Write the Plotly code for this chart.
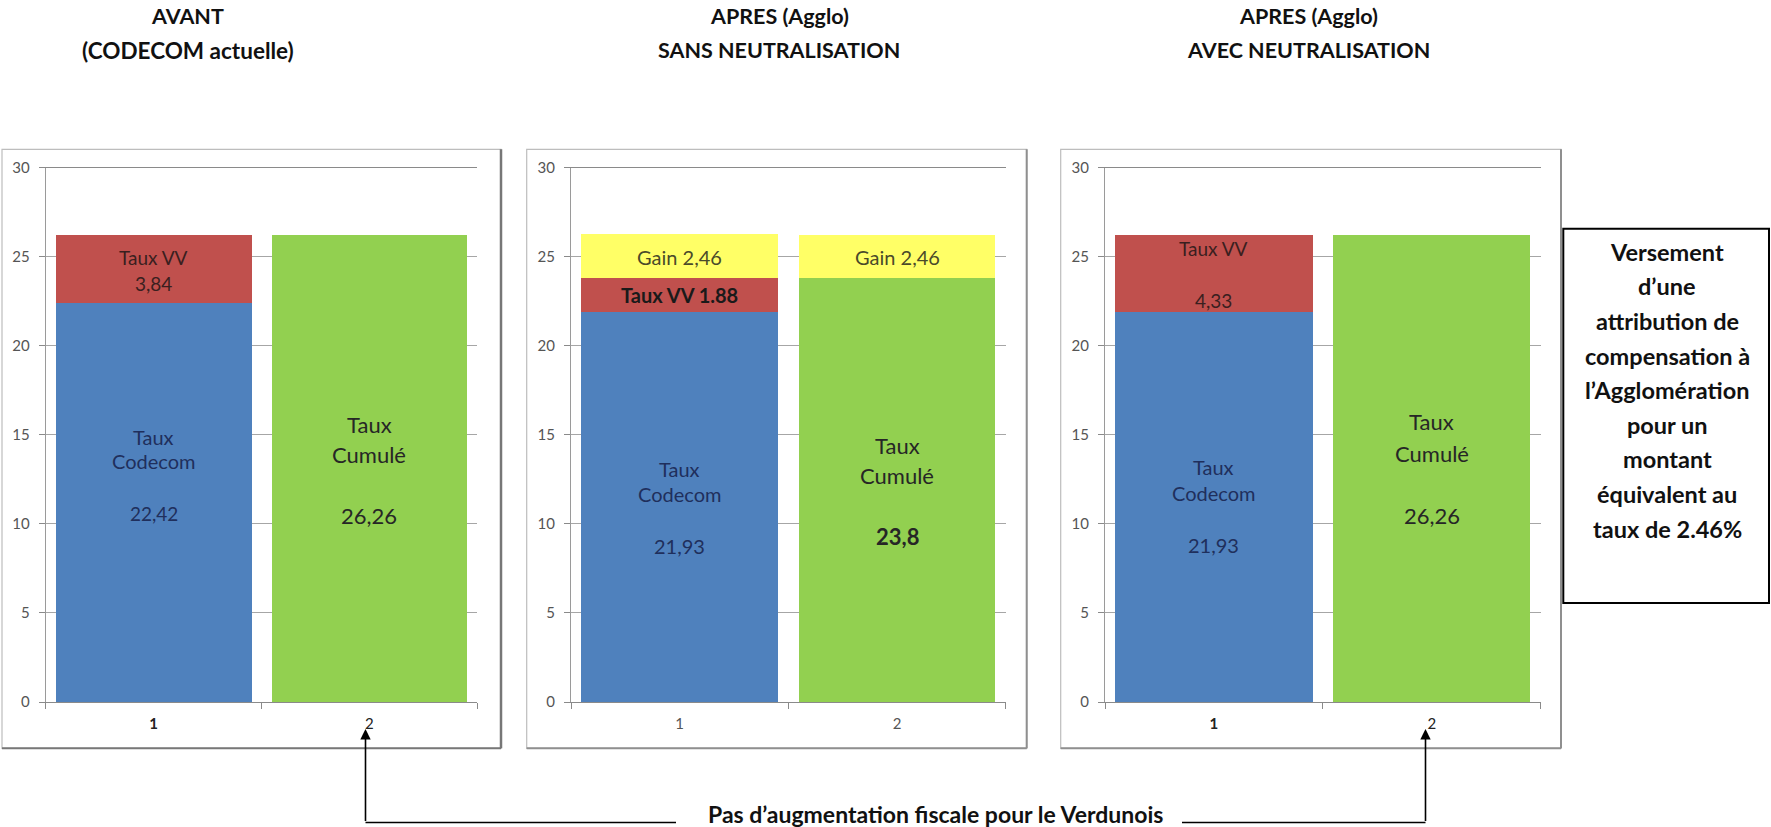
import plotly.graph_objects as go

W, H = 1771, 827
FONT = "Lato"

# ---------------- data ----------------
categories = [1, 2]
tick_labels = ["1", "2"]

titles_line1 = ["AVANT", "APRES (Agglo)", "APRES (Agglo)"]
titles_line2 = ["(CODECOM actuelle)", "SANS NEUTRALISATION", "AVEC NEUTRALISATION"]

p1_codecom = [22.42]
p1_vv = [3.84]
p1_cumule = [26.26]

p2_codecom = [21.93]
p2_vv = [1.88]
p2_cumule = [23.8]
p2_gain = [2.46, 2.46]

p3_codecom = [21.93]
p3_vv = [4.33]
p3_cumule = [26.26]

box_lines = ["Versement", "d\u2019une", "attribution de", "compensation \u00e0",
             "l\u2019Agglom\u00e9ration", "pour un", "montant",
             "\u00e9quivalent au", "taux de 2.46%"]
bottom_text = "Pas d\u2019augmentation fiscale pour le Verdunois"

BLUE, RED, GREEN, YELLOW = "#4f81bd", "#c0504d", "#92d050", "#ffff66"
BARW = 0.905

fig = go.Figure()

def px(x, y):
    return x / W, 1 - y / H

panels = [
    dict(codecom=p1_codecom, vv=p1_vv, cumule=p1_cumule, gain=None),
    dict(codecom=p2_codecom, vv=p2_vv, cumule=p2_cumule, gain=p2_gain),
    dict(codecom=p3_codecom, vv=p3_vv, cumule=p3_cumule, gain=None),
]
axis_ids = ["", "2", "3"]
for i, p in enumerate(panels):
    xa, ya = "x" + axis_ids[i], "y" + axis_ids[i]
    common = dict(width=BARW, xaxis=xa, yaxis=ya, showlegend=False,
                  marker_line_width=0, hoverinfo="skip")
    fig.add_trace(go.Bar(x=categories[:1], y=p["codecom"], marker_color=BLUE, **common))
    fig.add_trace(go.Bar(x=categories[:1], y=p["vv"], marker_color=RED, **common))
    fig.add_trace(go.Bar(x=categories[1:], y=p["cumule"], marker_color=GREEN, **common))
    if p["gain"] is not None:
        fig.add_trace(go.Bar(x=categories, y=p["gain"], marker_color=YELLOW, **common))

x_domains = [(45.7, 477.3), (571, 1005.7), (1105, 1540.7)]
frames = [(2, 501), (526.7, 1026.7), (1060.7, 1561)]
FR_TOP, FR_BOT = 149.3, 748.3
y_dom = [1 - 702 / H, 1 - 167.7 / H]

layout = dict(
    width=W, height=H, autosize=False,
    margin=dict(l=0, r=0, t=0, b=0, pad=0, autoexpand=False),
    paper_bgcolor="white", plot_bgcolor="white",
    barmode="stack", bargap=0, showlegend=False,
    font=dict(family=FONT, color="#333"),
)
for i, (a, b) in enumerate(x_domains):
    sfx = axis_ids[i]
    bold = i != 1
    ttext = ["<b>%s</b>" % tick_labels[0], tick_labels[1]] if bold else tick_labels
    layout["xaxis" + sfx] = dict(
        domain=[a / W, b / W], anchor="y" + sfx, range=[0.5, 2.5],
        tickvals=categories, ticktext=ttext, ticks="",
        showline=True, linecolor="#8a8a8a", linewidth=1, mirror=True,
        showgrid=False, zeroline=False, automargin=False,
        tickfont=dict(size=15, color="#222" if bold else "#555"),
        ticklabelstandoff=8,
        minor=dict(ticks="outside", tick0=0.5, dtick=1, ticklen=6, tickcolor="#8a8a8a"),
        fixedrange=True,
    )
    layout["yaxis" + sfx] = dict(
        domain=y_dom, anchor="x" + sfx, range=[0, 30],
        tickvals=[0, 5, 10, 15, 20, 25, 30], ticks="outside", ticklen=6,
        tickcolor="#8a8a8a", showline=True, linecolor="#9a9a9a",
        showgrid=True, gridcolor="#a6a6a6", gridwidth=1, zeroline=False, automargin=False,
        tickfont=dict(size=15, color="#555"), ticklabelstandoff=6,
        fixedrange=True,
    )
fig.update_layout(**layout)

shapes = []
for k, (a, b) in enumerate(frames):
    x0, y0 = px(a, FR_BOT)
    x1, y1 = px(b, FR_TOP)
    dark = "#777777" if k == 0 else "#8f8f8f"
    shapes.append(dict(type="rect", xref="paper", yref="paper", x0=x0, y0=y0, x1=x1, y1=y1,
                       line=dict(color="#bdbdbd", width=1.2)))
    shapes.append(dict(type="line", xref="paper", yref="paper", x0=x1, y0=y0, x1=x1, y1=y1,
                       line=dict(color=dark, width=2.5 if k == 0 else 2)))
    shapes.append(dict(type="line", xref="paper", yref="paper", x0=x0, y0=y0, x1=x1, y1=y0,
                       line=dict(color=dark, width=2)))

# text box
bx0, by0 = px(1563.3, 603)
bx1, by1 = px(1769, 228.7)
shapes.append(dict(type="rect", xref="paper", yref="paper", x0=bx0, y0=by0, x1=bx1, y1=by1,
                   line=dict(color="black", width=2)))
# bottom connector lines
for (a, b) in [(365.5, 676), (1182, 1425.5)]:
    xa_, ya_ = px(a, 822.5)
    xb_, _ = px(b, 822.5)
    shapes.append(dict(type="line", xref="paper", yref="paper", x0=xa_, y0=ya_, x1=xb_, y1=ya_,
                       line=dict(color="black", width=1.6)))
fig.update_layout(shapes=shapes)

ann = []
def ptext(x, y, text, size, bold=True, color="black"):
    xx, yy = px(x, y)
    ann.append(dict(xref="paper", yref="paper", x=xx, y=yy, text=text, showarrow=False,
                    xanchor="center", yanchor="middle",
                    font=dict(family=FONT, size=size, color=color,
                              weight="bold" if bold else "normal")))

title_x = [187.5, 779, 1308]
title2_size = [22.5, 21.5, 21.5]
for i in range(3):
    ptext(title_x[i], 16, titles_line1[i], 21.5, color="#111")
    ptext(title_x[i], 50, titles_line2[i], title2_size[i], color="#111")

for k, line in enumerate(box_lines):
    ptext(1667, 251.7 + k * 34.6, line, 23.5, color="#111")

ptext(935, 814, bottom_text, 23, color="#111")

# arrows
for xa_px in [365.5, 1425.5]:
    xx, yy = px(xa_px, 729)
    ann.append(dict(xref="paper", yref="paper", x=xx, y=yy, ax=0, ay=93.5, text="",
                    showarrow=True, arrowhead=2, arrowsize=1.3, arrowwidth=1.6,
                    arrowcolor="black"))

# bar labels (data coordinates)
def dtext(i, x, y, text, size, color, bold=False):
    sfx = axis_ids[i]
    ann.append(dict(xref="x" + sfx, yref="y" + sfx, x=x, y=y, text=text, showarrow=False,
                    xanchor="center", yanchor="middle",
                    font=dict(family=FONT, size=size, color=color,
                              weight="bold" if bold else "normal")))

NAVY, DARK, OLIVE, REDTXT = "#1f2f5c", "#262626", "#4a4a2a", "#3a1f1f"
# panel 1
dtext(0, 1, 24.97, "Taux VV", 19, REDTXT)
dtext(0, 1, 23.48, "3,84", 19, REDTXT)
dtext(0, 1, 14.9, "Taux", 20, NAVY)
dtext(0, 1, 13.53, "Codecom", 20, NAVY)
dtext(0, 1, 10.6, "22,42", 19, NAVY)
dtext(0, 2, 15.6, "Taux", 22, DARK)
dtext(0, 2, 13.9, "Cumulé", 22, DARK)
dtext(0, 2, 10.5, "26,26", 22, DARK)
# panel 2
dtext(1, 1, 24.97, "Gain 2,46", 20, OLIVE)
dtext(1, 2, 24.97, "Gain 2,46", 20, OLIVE)
dtext(1, 1, 22.83, "Taux VV 1.88", 20, "#1a1a1a", bold=True)
dtext(1, 1, 13.1, "Taux", 20, NAVY)
dtext(1, 1, 11.67, "Codecom", 20, NAVY)
dtext(1, 1, 8.75, "21,93", 20, NAVY)
dtext(1, 2, 14.43, "Taux", 22, DARK)
dtext(1, 2, 12.73, "Cumulé", 22, DARK)
dtext(1, 2, 9.3, "23,8", 22, DARK, bold=True)
# panel 3
dtext(2, 1, 25.44, "Taux VV", 19, REDTXT)
dtext(2, 1, 22.55, "4,33", 19, REDTXT)
dtext(2, 1, 13.2, "Taux", 20, NAVY)
dtext(2, 1, 11.76, "Codecom", 20, NAVY)
dtext(2, 1, 8.8, "21,93", 20, NAVY)
dtext(2, 2, 15.74, "Taux", 22, DARK)
dtext(2, 2, 13.97, "Cumulé", 22, DARK)
dtext(2, 2, 10.5, "26,26", 22, DARK)

fig.update_layout(annotations=ann)
fig.write_html("out.html", config={"displayModeBar": False},
               post_script="document.body.style.margin='0';document.body.style.overflow='hidden';")
